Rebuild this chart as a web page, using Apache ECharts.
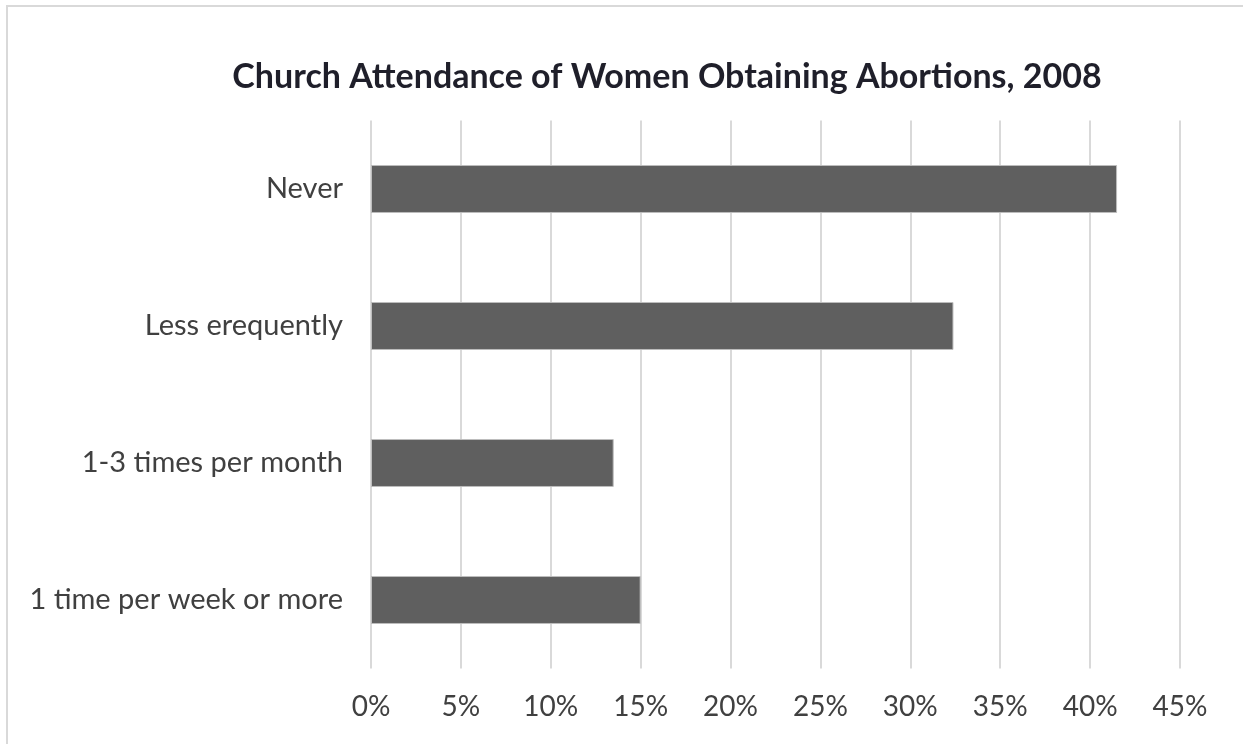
<!DOCTYPE html>
<html>
<head>
<meta charset="utf-8">
<script src="https://cdn.jsdelivr.net/npm/echarts@6/dist/echarts.min.js"></script>
<style>
html,body{margin:0;padding:0;background:#fff;}
#c{width:1243px;height:744px;}
</style>
</head>
<body>
<div id="c"></div>
<script>
const titleText = 'Church Attendance of Women Obtaining Abortions, 2008';
const categories = ['Never', 'Less erequently', '1-3 times per month', '1 time per week or more'];
const values = [41.5, 32.4, 13.5, 15.0];
const tickMin = 0, tickMax = 45, tickStep = 5;

const chart = echarts.init(document.getElementById('c'), null, {renderer: 'canvas'});
chart.setOption({
  backgroundColor: '#ffffff',
  animation: false,
  title: {
    text: titleText,
    left: 662, textAlign: 'center',
    top: 55,
    textStyle: {fontFamily: 'Lato', fontWeight: 'bold', fontSize: 34, color: '#1f1f2a'}
  },
  graphic: [{
    type: 'rect', silent: true,
    shape: {x: 7, y: 6, width: 1250, height: 760},
    style: {fill: 'none', stroke: '#d9d9d9', lineWidth: 2}
  }],
  grid: {left: 371, right: 63, top: 120.5, bottom: 75.5, containLabel: false},
  xAxis: {
    type: 'value', min: tickMin, max: tickMax, interval: tickStep,
    axisLine: {show: false}, axisTick: {show: false},
    splitLine: {show: true, lineStyle: {color: '#d9d9d9', width: 2}},
    axisLabel: {formatter: '{value}%', fontFamily: 'Lato', fontSize: 28, color: '#404040', margin: 24}
  },
  yAxis: {
    type: 'category', data: categories, inverse: true,
    axisLine: {show: false}, axisTick: {show: false},
    axisLabel: {fontFamily: 'Lato', fontSize: 29, color: '#404040', margin: 28}
  },
  series: [{
    type: 'bar', data: values, barWidth: '35%',
    itemStyle: {color: '#5f5f5f', borderColor: '#bdbdbd', borderWidth: 1}
  }]
});
</script>
</body>
</html>
